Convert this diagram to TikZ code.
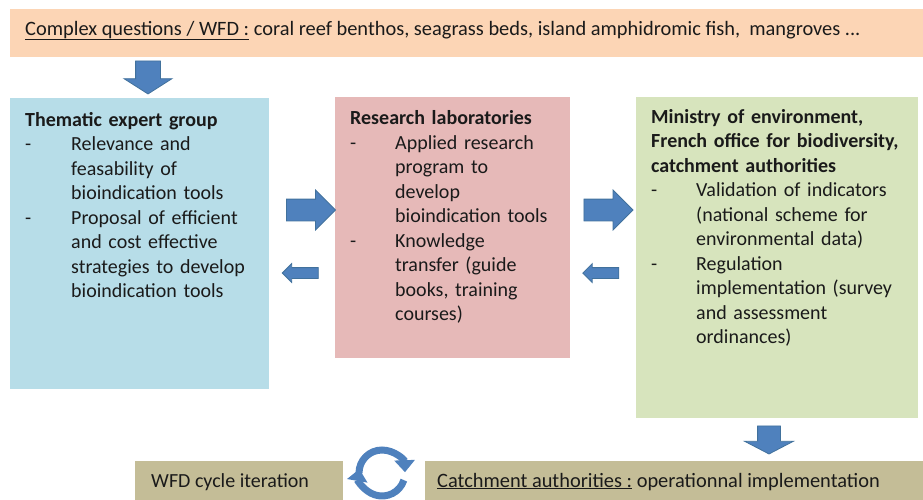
\documentclass[tikz,border=0pt]{standalone}
\usepackage{fontspec}
\setmainfont{Carlito}
\usetikzlibrary{shapes.arrows,arrows.meta}

\definecolor{peach}{HTML}{FCD5B5}
\definecolor{expertblue}{HTML}{B7DDE8}
\definecolor{labpink}{HTML}{E6B9B8}
\definecolor{ministrygreen}{HTML}{D7E4BD}
\definecolor{cycletan}{HTML}{C4BD97}
\definecolor{arrowblue}{HTML}{4F81BD}
\definecolor{arrowedge}{HTML}{41719C}
\definecolor{ink}{HTML}{1A1A1A}

\newcommand\dashitem[2]{\par\hangindent=#1\hangafter=1\noindent\makebox[#1][l]{-}#2\par}

\tikzset{
  box/.style={anchor=north west,inner sep=0pt,outer sep=0pt},
  boxtext/.style={anchor=north west,inner sep=0pt,text width=290pt,align=left,text=ink},
  linetext/.style={anchor=base west,inner sep=0pt,text=ink},
  blockarrow/.style={single arrow,fill=arrowblue,draw=arrowedge,line width=0.8pt,
    inner xsep=0pt,minimum width=0pt,single arrow head indent=0pt},
  cyclearrow/.style={draw=arrowblue,line width=7pt,-{Triangle[width=20pt,length=12pt]}}
}

\begin{document}
\begin{tikzpicture}[x=1pt,y=-1pt,font=\fontsize{20}{24.5}\selectfont]
\useasboundingbox (0,0) rectangle (923,499);

% coloured boxes
\begin{scope}[every node/.style={box}]
\node[fill=peach,minimum width=913pt,minimum height=48pt] (question) at (10,9) {};
\node[fill=expertblue,minimum width=259pt,minimum height=291pt] (expert) at (10,98) {};
\node[fill=labpink,minimum width=235pt,minimum height=261pt] (lab) at (335,97) {};
\node[fill=ministrygreen,minimum width=282pt,minimum height=321pt] (ministry) at (636,97) {};
\node[fill=cycletan,minimum width=208pt,minimum height=40pt] (cycle) at (135,461) {};
\node[fill=cycletan,minimum width=498pt,minimum height=40pt] (catchment) at (425,461) {};
\end{scope}

% texts
\node[linetext,font=\fontsize{20.4}{24.5}\selectfont] (questiontext) at ([shift={(15,26)}]question.north west)
  {\underline{Complex questions / WFD :} coral reef benthos, seagrass beds, island amphidromic fish,\ \ mangroves ...};
\node[boxtext] (experttext) at ([shift={(15,11)}]expert.north west) {\strut\textbf{Thematic expert group}
  \dashitem{46pt}{Relevance and\newline feasability of\newline bioindication tools}
  \dashitem{46pt}{Proposal of efficient\newline and cost effective\newline strategies to develop\newline bioindication tools}};
\node[boxtext] (labtext) at ([shift={(15,10.5)}]lab.north west) {\strut\textbf{Research laboratories}
  \dashitem{45pt}{Applied research\newline program to\newline develop\newline bioindication tools}
  \dashitem{45pt}{Knowledge\newline transfer (guide\newline books, training\newline courses)}};
\node[boxtext] (ministrytext) at ([shift={(15,9)}]ministry.north west) {\strut\textbf{Ministry of environment,\\ French office for biodiversity,\\ catchment authorities}
  \dashitem{45pt}{Validation of indicators\newline (national scheme for\newline environmental data)}
  \dashitem{45pt}{Regulation\newline implementation (survey\newline and assessment\newline ordinances)}};
\node[linetext] (cycletext) at ([shift={(16,26)}]cycle.north west) {WFD cycle iteration};
\node[linetext,font=\fontsize{20.4}{24.5}\selectfont] (catchmenttext) at ([shift={(12,26)}]catchment.north west)
  {\underline{Catchment authorities :} operationnal implementation};

% block arrows
\begin{scope}[every node/.style={blockarrow}]
\node[rotate=-90,minimum height=33pt,inner ysep=12pt,single arrow head extend=11.5pt,single arrow tip angle=115] (down1) at (148,73.5) {};
\node[minimum height=49pt,inner ysep=10.5pt,single arrow head extend=9pt] (right1) at (305.5,210) {};
\node[shape border rotate=180,minimum height=36pt,inner ysep=5pt,single arrow head extend=4pt] (left1) at (303,273) {};
\node[minimum height=49pt,inner ysep=10.5pt,single arrow head extend=9pt] (right2) at (603,210) {};
\node[shape border rotate=180,minimum height=36pt,inner ysep=5pt,single arrow head extend=4pt] (left2) at (603.5,273) {};
\node[rotate=-90,minimum height=28pt,inner ysep=11pt,single arrow head extend=13pt,single arrow tip angle=125] (down2) at (769,437) {};
\end{scope}

% cycle
\coordinate (hub) at (382,473);
\draw[cyclearrow] (hub) ++(-180:23) arc[start angle=-180,end angle=-2,radius=23];
\draw[cyclearrow] (hub) ++(18:23) arc[start angle=18,end angle=190,radius=23];
\end{tikzpicture}
\end{document}
